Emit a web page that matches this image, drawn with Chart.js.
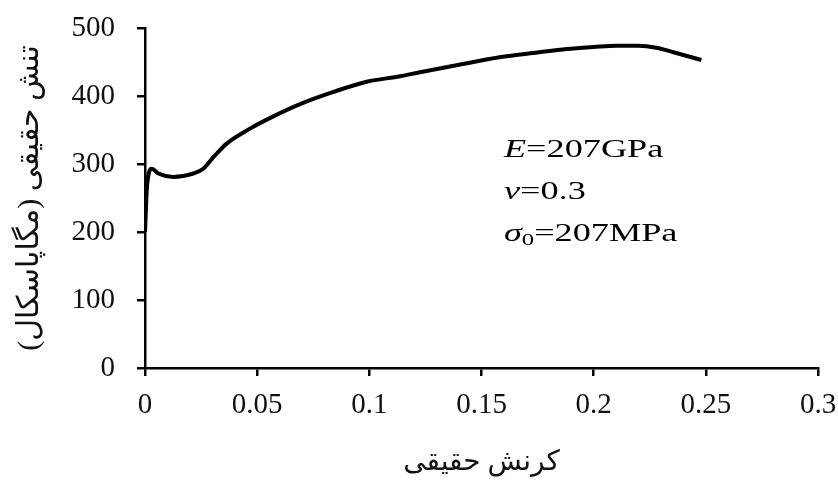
<!DOCTYPE html>
<html>
<head>
<meta charset="utf-8">
<script src="https://cdn.jsdelivr.net/npm/chart.js@4"></script>
<style>
  html, body { margin: 0; padding: 0; background: #fff; }
  #wrap { width: 838px; height: 486px; }
</style>
</head>
<body>
<div id="wrap"><canvas id="stressChart" width="838" height="486"></canvas></div>
<script>
// true strain / true stress
const strain = [0, 0.0008, 0.002, 0.003, 0.006, 0.0126, 0.0215, 0.026, 0.0305, 0.0364, 0.0468, 0.0572, 0.0691, 0.084, 0.0988, 0.1137, 0.1226, 0.14, 0.158, 0.175, 0.188, 0.2, 0.21, 0.22, 0.228, 0.236, 0.248];
const stress = [200, 262, 290, 293, 286, 281, 286, 293, 310, 330, 352, 370, 388, 406, 421, 429, 435, 446, 457, 464, 469, 472, 474, 474, 471, 464, 453];
const xTicks = [0, 0.05, 0.1, 0.15, 0.2, 0.25, 0.3];
const yTicks = [0, 100, 200, 300, 400, 500];
const xTitle = 'کرنش حقیقی';
const yTitle = 'تنش حقیقی (مگاپاسکال)\u200F';

const serif = "'Liberation Serif', 'DejaVu Sans', serif";

// material constants box, drawn in data space (stretched a bit sideways like the source)
const notes = {
    draw(chart) {
        const ctx = chart.ctx;
        const x = chart.scales.x.getPixelForValue(0.160);
        const y0 = chart.scales.y.getPixelForValue(320);
        const gap = 42;
        const sx = 1.45;
        ctx.save();
        ctx.fillStyle = '#000';
        ctx.textBaseline = 'middle';
        ctx.textAlign = 'left';
        ctx.translate(x, 0);
        ctx.scale(sx, 1);
        const parts = (line, y) => {
            let cx = 0;
            line.forEach(p => {
                ctx.font = p.f;
                ctx.fillText(p.t, cx, y + (p.dy || 0));
                cx += ctx.measureText(p.t).width;
            });
        };
        const it = "italic 25px " + serif;
        const rm = "25px " + serif;
        parts([{ t: 'E', f: it }, { t: '=207GPa', f: rm }], y0);
        parts([{ t: 'ν', f: it }, { t: '=0.3', f: rm }], y0 + gap);
        parts([{ t: 'σ', f: it }, { t: '0', f: "17px " + serif, dy: 6 }, { t: '=207MPa', f: rm }], y0 + gap * 2);
        ctx.restore();
    }
};

document.addEventListener("DOMContentLoaded", () => {
    const ctx = document.getElementById('stressChart').getContext('2d');
    new Chart(ctx, {
        type: 'scatter',
        data: {
            datasets: [{
                data: strain.map((s, i) => ({ x: s, y: stress[i] })),
                showLine: true,
                borderColor: '#000',
                borderWidth: 4,
                pointRadius: 0,
                cubicInterpolationMode: 'monotone',
                fill: false
            }]
        },
        options: {
            responsive: false,
            animation: false,
            layout: { padding: { top: 28, right: 20, left: 0, bottom: 0 } },
            plugins: {
                legend: { display: false },
                tooltip: { enabled: false }
            },
            scales: {
                x: {
                    type: 'linear',
                    min: 0,
                    max: 0.3,
                    afterBuildTicks: axis => { axis.ticks = xTicks.map(v => ({ value: v })); },
                    afterFit: axis => {
                        axis.height = 118;
                        axis.paddingLeft = 0;
                        axis.paddingRight = 0;
                    },
                    ticks: {
                        color: '#111',
                        font: { family: serif, size: 29 },
                        padding: 12,
                        maxRotation: 0,
                        callback: v => String(v)
                    },
                    grid: { drawOnChartArea: false, drawTicks: true, tickLength: 8, color: '#000', lineWidth: 2.5 },
                    border: { display: true, color: '#000', width: 2.5 },
                    title: {
                        display: true,
                        text: xTitle,
                        color: '#111',
                        font: { family: serif, size: 28 },
                        padding: { top: 0, bottom: 7 }
                    }
                },
                y: {
                    min: 0,
                    max: 500,
                    afterBuildTicks: axis => { axis.ticks = yTicks.map(v => ({ value: v })); },
                    afterFit: axis => {
                        axis.width = 145;
                        axis.paddingTop = 0;
                        axis.paddingBottom = 0;
                    },
                    ticks: {
                        color: '#111',
                        font: { family: serif, size: 29 },
                        padding: 22
                    },
                    grid: { drawOnChartArea: false, drawTicks: true, tickLength: 8, color: '#000', lineWidth: 2.5 },
                    border: { display: true, color: '#000', width: 2.5 },
                    title: {
                        display: true,
                        text: yTitle,
                        color: '#111',
                        font: { family: serif, size: 30 },
                        padding: { top: 12, bottom: 0 }
                    }
                }
            }
        },
        plugins: [{ id: 'notes', afterDraw: chart => notes.draw(chart) }]
    });
});
</script>
</body>
</html>
